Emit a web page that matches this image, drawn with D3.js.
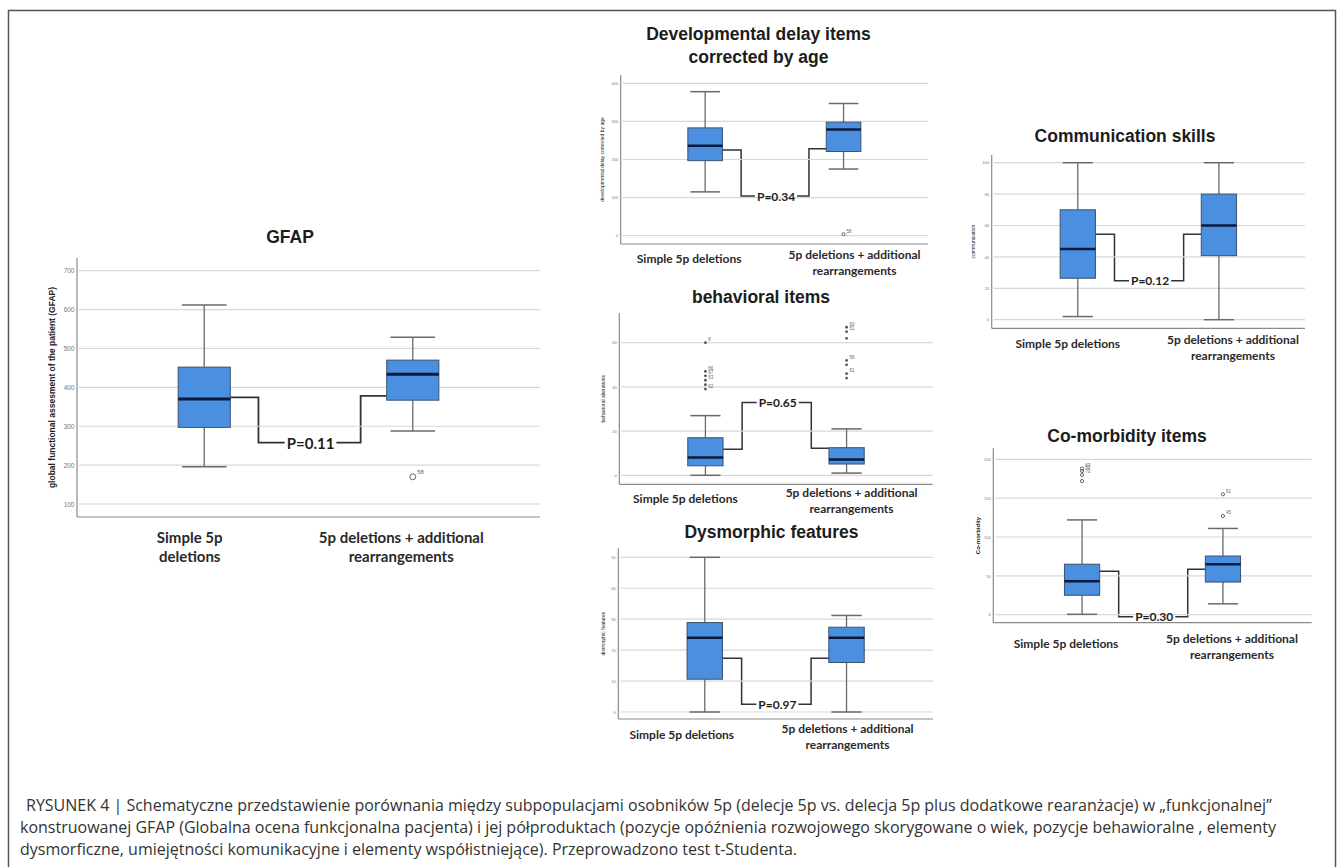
<!DOCTYPE html>
<html><head><meta charset="utf-8">
<script src="https://cdn.jsdelivr.net/npm/d3@7"></script>
<style>body{margin:0;background:#fff;} svg{display:block;}</style>
</head><body>
<svg id="c" width="1343" height="867"></svg>
<script>
const categories = ["Simple 5p deletions", "5p deletions + additional rearrangements"];
const categoryLinesGFAP = [["Simple 5p", "deletions"], ["5p deletions + additional", "rearrangements"]];
const categoryLinesSmall = [["Simple 5p deletions"], ["5p deletions + additional", "rearrangements"]];

// box statistics per group: [lower whisker, Q1, median, Q3, upper whisker]
const gfapStats = [[196, 297, 370, 452, 612], [288, 367, 434, 470, 529]];
const gfapOutliers = [[], [[170, "58"]]];
const gfapBracket = [374, 258, 378];
const gfapTicks = [100, 200, 300, 400, 500, 600, 700];
const gfapP = "P=0.11";

const devStats = [[115, 197, 236, 283, 378], [175, 221, 279, 298, 347]];
const devOutliers = [[], [[4, "58"]]];
const devBracket = [225, 104, 228];
const devTicks = [0, 100, 200, 300, 400];
const devP = "P=0.34";

const behavStats = [[0, 4.3, 8, 17, 27], [1, 5.1, 7.2, 12.5, 21]];
const behavOutliers = [
  [[60, "8"], [47, "66"], [45, "67"], [43, "53"], [41, ""], [39, "62"]],
  [[67, "60"], [65, "51"], [62, ""], [52, "56"], [50, ""], [46, "61"], [44, ""]]
];
const behavBracket = [11.8, 32.9, 12.2];
const behavTicks = [0, 20, 40, 60];
const behavP = "P=0.65";

const dysStats = [[0, 10.6, 24, 28.9, 50], [0, 16, 24, 27.4, 31.2]];
const dysOutliers = [[], []];
const dysBracket = [17.4, 2.5, 17.4];
const dysTicks = [0, 10, 20, 30, 40, 50];
const dysP = "P=0.97";

const commStats = [[2, 26.4, 45, 70, 100], [0, 40.8, 60, 80, 100]];
const commOutliers = [[], []];
const commBracket = [54.4, 24.8, 54.4];
const commTicks = [0, 20, 40, 60, 80, 100];
const commP = "P=0.12";

const comorbStats = [[0.5, 25, 43, 65, 122], [14, 42, 65, 75.5, 111]];
const comorbOutliers = [[[188, "63"], [185, "62"], [180, "70"], [172, ""]], [[155, "61"], [127, "45"]]];
const comorbBracket = [56, -2.5, 58.4];
const comorbTicks = [0, 50, 100, 150, 200];
const comorbP = "P=0.30";

const captionLines = [
  "RYSUNEK 4 | Schematyczne przedstawienie porównania między subpopulacjami osobników 5p (delecje 5p vs. delecja 5p plus dodatkowe rearanżacje) w „funkcjonalnej”",
  "konstruowanej GFAP (Globalna ocena funkcjonalna pacjenta) i jej półproduktach (pozycje opóźnienia rozwojowego skorygowane o wiek, pozycje behawioralne , elementy",
  "dysmorficzne, umiejętności komunikacyjne i elementy współistniejące). Przeprowadzono test t-Studenta."
];

// ---------- layout (positions / styles only) ----------
const small = {tickSize: 4, yLabelSize: 5, yLabelWeight: 400, catSize: 12, catLH: 16, pSize: 12, medW: 2.5, outR: 1.4, outSize: 4.5, openOut: false, lw: 1.5, pad: 0.61};
const panels = [
  {title: ["GFAP"], stats: gfapStats, outliers: gfapOutliers, bracket: gfapBracket, ticks: gfapTicks, p: gfapP,
   yLabel: "global functional assesment of the patient (GFAP)", cats: categoryLinesGFAP,
   L: {titleX: 290, titleY: [243], left: 77, right: 540, top: 258, bottom: 517, y0: 504, y1: 270.7,
       tickSize: 6.5, yLabelX: 52, yLabelSize: 8.5, yLabelWeight: 700, catSize: 15, catLH: 19,
       catX: [-14.5, -11.5], catY: [543, 543], pSize: 15, medW: 3, outR: 3, outSize: 6, openOut: true, lw: 1.8, pad: 0.61}},
  {title: ["Developmental delay items", "corrected by age"], stats: devStats, outliers: devOutliers, bracket: devBracket, ticks: devTicks, p: devP,
   yLabel: "developmental delay corrected by age", cats: categoryLinesSmall,
   L: Object.assign({}, small, {titleX: 758.5, titleY: [40, 63], left: 620.7, right: 928, top: 75, bottom: 244, y0: 235.7, y1: 83.3,
       yLabelX: 601.7, catX: [-16, 11], catY: [263, 259], openOut: true, outR: 1.5})},
  {title: ["behavioral items"], stats: behavStats, outliers: behavOutliers, bracket: behavBracket, ticks: behavTicks, p: behavP,
   yLabel: "behavioral alterations", cats: categoryLinesSmall,
   L: Object.assign({}, small, {titleX: 761, titleY: [302.5], left: 619.3, right: 932.7, top: 313, bottom: 484.3, y0: 475.3, y1: 342.7,
       yLabelX: 602.7, catX: [-20, 5], catY: [502.5, 496.5]})},
  {title: ["Dysmorphic features"], stats: dysStats, outliers: dysOutliers, bracket: dysBracket, ticks: dysTicks, p: dysP,
   yLabel: "dismorphic features", cats: categoryLinesSmall,
   L: Object.assign({}, small, {titleX: 771.5, titleY: [537.5], left: 618.3, right: 933, top: 548.3, bottom: 719, y0: 712, y1: 557.3,
       yLabelX: 602.7, catX: [-23, 1], catY: [739, 732.5]})},
  {title: ["Communication skills"], stats: commStats, outliers: commOutliers, bracket: commBracket, ticks: commTicks, p: commP,
   yLabel: "communication", cats: categoryLinesSmall,
   L: Object.assign({}, small, {titleX: 1125, titleY: [142], left: 991.7, right: 1305, top: 155, bottom: 328.3, y0: 319.7, y1: 162.7,
       yLabelX: 973.3, catX: [-10, 14], catY: [347.5, 343.5]})},
  {title: ["Co-morbidity items"], stats: comorbStats, outliers: comorbOutliers, bracket: comorbBracket, ticks: comorbTicks, p: comorbP,
   yLabel: "Co-morbidity", cats: categoryLinesSmall,
   L: Object.assign({}, small, {titleX: 1127, titleY: [442], left: 993.3, right: 1311.7, top: 448.3, bottom: 622.7, y0: 614.7, y1: 459.3,
       yLabelX: 978.3, yLabelSize: 6, yLabelWeight: 700, catX: [-16, 9], catY: [647.5, 642.5], pad: 0.63, openOut: true, outR: 1.6})}
];

const TITLE_FONT = "'Liberation Sans', Arial, sans-serif";
const CAT_FONT = "Lato, 'Open Sans', sans-serif";
const BOX_FILL = "#4a8fe0", BOX_STROKE = "#3b5272", MED = "#0b1a3c", WHISK = "#6a6a6a", GRID = "#d8d8d8", AXIS = "#8a8a8a";

const svg = d3.select("#c");
svg.append("rect").attr("width", 1343).attr("height", 867).attr("fill", "#fff");
svg.append("rect").attr("x", 8.5).attr("y", 10.5).attr("width", 1327).attr("height", 900)
  .attr("fill", "none").attr("stroke", "#555").attr("stroke-width", 1.5);

panels.forEach(p => {
  const L = p.L;
  const g = svg.append("g");
  const x = d3.scalePoint().domain(categories).range([L.left, L.right]).padding(L.pad);
  const y = d3.scaleLinear().domain([p.ticks[0], p.ticks[p.ticks.length - 1]]).range([L.y0, L.y1]);
  const step = x.step();
  const bw = step * 0.25, cw = step * 0.107;

  p.title.forEach((t, i) => g.append("text").attr("x", L.titleX).attr("y", L.titleY[i]).attr("text-anchor", "middle")
    .attr("font-family", TITLE_FONT).attr("font-weight", 700).attr("font-size", 17.5).attr("fill", "#1c1c1c").text(t));

  g.selectAll(".grid").data(p.ticks).join("line").attr("class", "grid")
    .attr("x1", L.left + 2).attr("x2", L.right).attr("y1", d => y(d)).attr("y2", d => y(d))
    .attr("stroke", GRID).attr("stroke-width", 1.2);

  const ga = g.append("g").attr("transform", `translate(${L.left},0)`)
    .call(d3.axisLeft(y).tickValues(p.ticks).tickSize(0).tickPadding(2.5));
  ga.select(".domain").remove();
  ga.selectAll("text").attr("font-size", L.tickSize).attr("fill", "#777").attr("font-family", TITLE_FONT);

  g.append("line").attr("x1", L.left).attr("x2", L.left).attr("y1", L.top).attr("y2", L.bottom).attr("stroke", AXIS).attr("stroke-width", 1.2);
  g.append("line").attr("x1", L.left).attr("x2", L.right).attr("y1", L.bottom).attr("y2", L.bottom).attr("stroke", AXIS).attr("stroke-width", 1.2);

  g.append("text").attr("transform", `translate(${L.yLabelX},${(L.top + L.bottom) / 2}) rotate(-90)`)
    .attr("text-anchor", "middle").attr("dominant-baseline", "central")
    .attr("font-family", TITLE_FONT).attr("font-weight", L.yLabelWeight).attr("font-size", L.yLabelSize).attr("fill", "#222").text(p.yLabel);

  categories.forEach((c, i) => {
    const cx = x(c), s = p.stats[i];
    const bg = g.append("g");
    bg.append("line").attr("x1", cx).attr("x2", cx).attr("y1", y(s[4])).attr("y2", y(s[3])).attr("stroke", WHISK).attr("stroke-width", 1.3);
    bg.append("line").attr("x1", cx).attr("x2", cx).attr("y1", y(s[1])).attr("y2", y(s[0])).attr("stroke", WHISK).attr("stroke-width", 1.3);
    [s[0], s[4]].forEach(v => bg.append("line").attr("x1", cx - cw).attr("x2", cx + cw).attr("y1", y(v)).attr("y2", y(v))
      .attr("stroke", WHISK).attr("stroke-width", 1.5));
    bg.append("rect").attr("x", cx - bw / 2).attr("width", bw).attr("y", y(s[3])).attr("height", y(s[1]) - y(s[3]))
      .attr("fill", BOX_FILL).attr("stroke", BOX_STROKE).attr("stroke-width", 1);
    bg.append("line").attr("x1", cx - bw / 2).attr("x2", cx + bw / 2).attr("y1", y(s[2])).attr("y2", y(s[2]))
      .attr("stroke", MED).attr("stroke-width", L.medW);
    p.outliers[i].forEach(o => {
      bg.append("circle").attr("cx", cx).attr("cy", y(o[0])).attr("r", L.outR)
        .attr("fill", L.openOut ? "none" : "#555").attr("stroke", L.openOut ? "#666" : "none").attr("stroke-width", 1);
      if (o[1]) bg.append("text").attr("x", cx + L.outR + 1.5).attr("y", y(o[0]) - L.outR)
        .attr("font-family", TITLE_FONT).attr("font-size", L.outSize).attr("fill", "#666").text(o[1]);
    });
    p.cats[i].forEach((t, k) => g.append("text").attr("x", cx + L.catX[i]).attr("y", L.catY[i] + k * L.catLH)
      .attr("text-anchor", "middle").attr("font-family", CAT_FONT).attr("font-weight", 700)
      .attr("font-size", L.catSize).attr("fill", "#2a2a2a").text(t));
  });

  const x1 = x(categories[0]) + bw / 2, x2 = x(categories[1]) - bw / 2;
  const dropX = x1 + 0.135 * step, riseX = x2 - 0.125 * step;
  const tx = (dropX + riseX) / 2 + 1;
  const yL = y(p.bracket[0]), yB = y(p.bracket[1]), yR = y(p.bracket[2]);
  const pt = g.append("text").attr("x", tx).attr("y", yB).attr("text-anchor", "middle").attr("dominant-baseline", "central")
    .attr("font-family", CAT_FONT).attr("font-weight", 700).attr("font-size", L.pSize).attr("fill", "#1e1e1e").text(p.p);
  const tw = pt.node().getComputedTextLength();
  const path = d3.path();
  path.moveTo(x1, yL); path.lineTo(dropX, yL); path.lineTo(dropX, yB); path.lineTo(tx - tw / 2 - 2, yB);
  path.moveTo(tx + tw / 2 + 2, yB); path.lineTo(riseX, yB); path.lineTo(riseX, yR); path.lineTo(x2, yR);
  g.insert("path", "text").attr("d", path.toString()).attr("fill", "none").attr("stroke", "#333").attr("stroke-width", L.lw);
});

svg.append("g").selectAll("text").data(captionLines).join("text")
  .attr("x", (d, i) => i === 0 ? 26 : 20).attr("y", (d, i) => 811 + i * 22)
  .attr("font-family", "'Open Sans', 'Noto Sans', sans-serif").attr("font-size", 16).attr("fill", "#333")
  .text(d => d);
</script>
</body></html>
